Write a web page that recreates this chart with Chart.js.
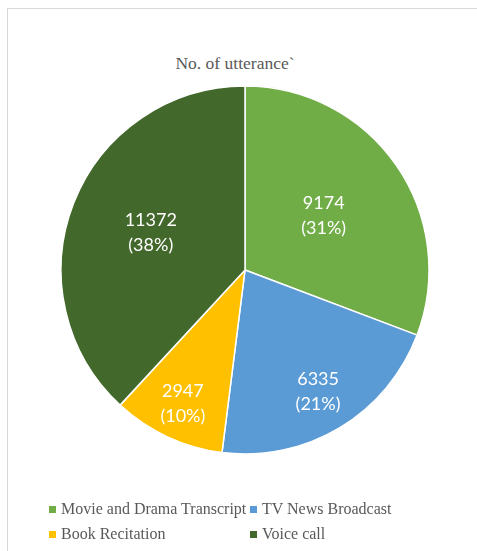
<!DOCTYPE html>
<html>
<head>
<meta charset="utf-8">
<script src="https://cdn.jsdelivr.net/npm/chart.js@4/dist/chart.umd.min.js"></script>
<style>
    html, body { margin: 0; padding: 0; background: #fff; overflow: hidden; }
    .wrap { position: relative; width: 477px; height: 551px; }
    .frame { position: absolute; left: 7px; top: 8px; width: 600px; height: 700px; border-left: 1.5px solid #d9d9d9; border-top: 1.5px solid #d9d9d9; }
    #pie { position: absolute; left: 0; top: 0; }
    .title { position: absolute; left: 0; width: 470px; top: 52px; text-align: center; font: 17.5px "Liberation Serif", "Times New Roman", serif; color: #595959; line-height: 22px; }
    .legend { position: absolute; left: 49px; top: 499px; display: grid; grid-template-columns: 201px 200px; row-gap: 5px; font: 16px "Liberation Serif", "Times New Roman", serif; color: #595959; line-height: 20px; }
    .legend span.box { display: inline-block; width: 7px; height: 7px; margin-right: 5px; vertical-align: 1px; }
</style>
</head>
<body>
<div class="wrap">
    <div class="frame"></div>
    <div class="title">No. of utterance`</div>
    <canvas id="pie" width="477" height="551"></canvas>
    <div class="legend"></div>
</div>
<script>
const categories = ['Movie and Drama Transcript', 'TV News Broadcast', 'Book Recitation', 'Voice call']
const utterances = [9174, 6335, 2947, 11372]
const colors = ['#70ad47', '#5b9bd5', '#ffc000', '#43682b']
// how far out each label sits, as a share of the radius
const labelRadius = [0.52, 0.77, 0.8, 0.55]

const total = utterances.reduce((a, b) => a + b, 0)

// value + percentage written inside each slice
const sliceLabels = {
    id: 'sliceLabels',
    afterDatasetsDraw(chart) {
        const ctx = chart.ctx
        const arcs = chart.getDatasetMeta(0).data
        ctx.save()
        ctx.fillStyle = '#fff'
        ctx.font = '18px Lato, "Open Sans", sans-serif'
        ctx.textAlign = 'center'
        ctx.textBaseline = 'middle'
        arcs.forEach((arc, i) => {
            const { x, y, startAngle, endAngle, outerRadius } = arc.getProps(['x', 'y', 'startAngle', 'endAngle', 'outerRadius'], true)
            const mid = (startAngle + endAngle) / 2
            const r = outerRadius * labelRadius[i]
            const cx = x + Math.cos(mid) * r
            const cy = y + Math.sin(mid) * r
            const pct = Math.round(utterances[i] / total * 100)
            ctx.fillText(`${utterances[i]}`, cx, cy - 12.5)
            ctx.fillText(`(${pct}%)`, cx, cy + 12.5)
        })
        ctx.restore()
    },
}

new Chart(document.getElementById('pie'), {
    type: 'pie',
    data: {
        labels: categories,
        datasets: [
            {
                data: utterances,
                backgroundColor: colors,
                borderColor: '#fff',
                borderWidth: 1.5,
            },
        ],
    },
    options: {
        responsive: false,
        animation: false,
        radius: 184,
        layout: { padding: { left: 13, right: 0, top: 80, bottom: 91 } },
        plugins: {
            legend: { display: false },
            tooltip: { enabled: false },
        },
    },
    plugins: [sliceLabels],
})

// legend laid out in two aligned columns
const legendBox = document.querySelector('.legend')
legendBox.innerHTML = categories
    .map((name, i) => `<div><span class="box" style="background:${colors[i]}"></span>${name}</div>`)
    .join('')
</script>
</body>
</html>
